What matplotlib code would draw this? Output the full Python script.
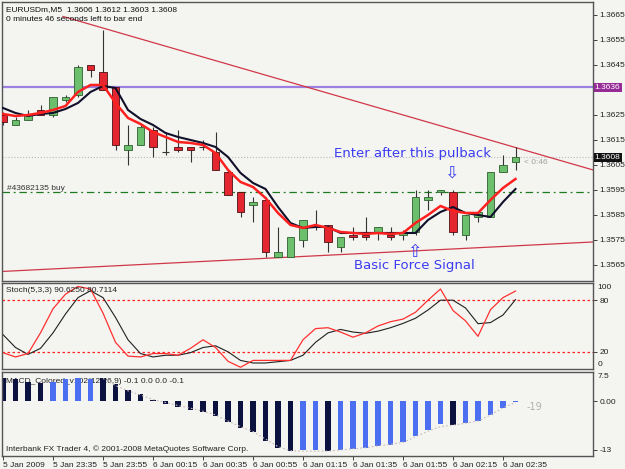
import matplotlib.pyplot as plt
import matplotlib.transforms as mtransforms
from matplotlib.patches import Rectangle
import numpy as np

# ---- data (EURUSDm M5, 5-6 Jan 2009) ----
opens = [1.3625, 1.3621, 1.3623, 1.3627, 1.3625, 1.3631, 1.3633, 1.3645, 1.3642, 1.3636,
         1.3611, 1.3613, 1.3619, 1.3610, 1.3612, 1.3612, 1.3612, 1.3610, 1.3602, 1.3594,
         1.3589, 1.3591, 1.3568, 1.3568, 1.3575, 1.3580, 1.3581, 1.3572, 1.3577, 1.3577,
         1.3578, 1.3577, 1.3577, 1.3578, 1.3591, 1.3594, 1.3594, 1.3577, 1.3584, 1.3584,
         1.3602, 1.3606]
highs = [1.3626, 1.3624, 1.3627, 1.3629, 1.3632, 1.3633, 1.3645, 1.3645, 1.3659, 1.3636,
         1.3621, 1.3621, 1.3620, 1.3618, 1.3619, 1.3612, 1.3615, 1.3618, 1.3603, 1.3594,
         1.3592, 1.3592, 1.3580, 1.3576, 1.3583, 1.3587, 1.3581, 1.3576, 1.3580, 1.3584,
         1.3580, 1.3580, 1.3579, 1.3595, 1.3595, 1.3595, 1.3595, 1.3585, 1.3586, 1.3602,
         1.3609, 1.3612]
lows = [1.3621, 1.3621, 1.3623, 1.3625, 1.3624, 1.3630, 1.3632, 1.3640, 1.3635, 1.3611,
        1.3605, 1.3613, 1.3608, 1.3609, 1.3610, 1.3606, 1.3611, 1.3603, 1.3593, 1.3584,
        1.3582, 1.3568, 1.3568, 1.3568, 1.3572, 1.3579, 1.3570, 1.3570, 1.3575, 1.3575,
        1.3575, 1.3575, 1.3575, 1.3577, 1.3587, 1.3593, 1.3577, 1.3575, 1.3582, 1.3584,
        1.3602, 1.3603]
closes = [1.3622, 1.3623, 1.3625, 1.3625, 1.3632, 1.3632, 1.3644, 1.3643, 1.3635, 1.3613,
          1.3613, 1.3620, 1.3612, 1.3610, 1.3611, 1.3611, 1.3612, 1.3603, 1.3593, 1.3586,
          1.3590, 1.3570, 1.3570, 1.3576, 1.3583, 1.3581, 1.3574, 1.3576, 1.3576, 1.3576,
          1.3580, 1.3576, 1.3578, 1.3592, 1.3592, 1.3595, 1.3578, 1.3585, 1.3586, 1.3602,
          1.3605, 1.3608]

ma_fast = [1.36254, 1.36246, 1.36250, 1.36258, 1.36270, 1.36286, 1.36342, 1.36370, 1.36370, 1.36298,
           1.36238, 1.36214, 1.36182, 1.36162, 1.36142, 1.36138, 1.36130, 1.36098, 1.36030, 1.35982,
           1.35962, 1.35918, 1.35858, 1.35810, 1.35798, 1.35810, 1.35798, 1.35782, 1.35778, 1.35774,
           1.35778, 1.35774, 1.35778, 1.35818, 1.35850, 1.35886, 1.35866, 1.35858, 1.35858, 1.35910,
           1.35958, 1.35994]
ma_slow = [1.36278, 1.36258, 1.36246, 1.36254, 1.36258, 1.36274, 1.36298, 1.36342, 1.36366, 1.36358,
           1.36270, 1.36234, 1.36210, 1.36178, 1.36162, 1.36150, 1.36138, 1.36122, 1.36082, 1.36018,
           1.35978, 1.35954, 1.35882, 1.35818, 1.35798, 1.35802, 1.35802, 1.35778, 1.35778, 1.35778,
           1.35778, 1.35778, 1.35778, 1.35778, 1.35830, 1.35862, 1.35882, 1.35858, 1.35850, 1.35842,
           1.35902, 1.35954]

stoch_k = [19, 14, 18, 42, 70, 87, 96, 93, 65, 31, 15, 14, 18, 18, 16, 24, 34, 25, 9, 2,
           10, 10, 10, 10, 34, 47, 48, 43, 37, 42, 50, 55, 58, 66, 80, 93, 68, 56, 38, 69,
           83, 90.6]
stoch_d = [40, 25, 17, 24, 42, 64, 83, 91, 83, 60, 34, 18, 14, 16, 16, 19, 25, 27, 20, 10,
           7, 7, 8.5, 10, 16, 31, 42, 46, 43, 41.5, 44, 48, 53, 59, 68.6, 80, 80, 71, 52.7, 54,
           62.8, 80.7]

macd_hist = [6.0, 5.8, 5.1, 4.7, 5.1, 5.8, 6.2, 5.8, 6.0, 4.4, 2.9, 1.9, 0.4, -0.8, -1.7,
             -2.4, -2.8, -3.9, -5.5, -7.1, -8.1, -10.6, -12.4, -13.3, -13.0, -13.0, -13.4,
             -13.0, -12.8, -12.6, -11.9, -11.7, -11.0, -9.2, -7.7, -6.2, -6.4, -5.9, -5.3,
             -3.7, -1.9, -0.3]
macd_up = [0, 0, 0, 0, 1, 1, 1, 1, 0, 0, 0, 0, 0, 0, 0, 0, 0, 0, 0, 0, 0, 0, 0, 0, 1, 1, 0,
           1, 1, 1, 1, 1, 1, 1, 1, 1, 0, 1, 1, 1, 1, 1]
macd_signal = [6.0, 4.1, 2.7, 1.6, 0.4, -0.4, -1.2, -1.9, -2.7, -3.7, -5.3, -6.8, -8.1, -10.1,
               -12.1, -13.2, -13.3, -13.3, -13.3, -13.0, -12.7, -12.4, -11.9, -11.5, -11.0,
               -9.5, -8.0, -6.8, -6.4, -5.9, -5.3, -3.7, -1.8, -0.4]
signal_start = 8

time_labels = ["5 Jan 2009", "5 Jan 23:35", "5 Jan 23:55", "6 Jan 00:15", "6 Jan 00:35",
               "6 Jan 00:55", "6 Jan 01:15", "6 Jan 01:35", "6 Jan 01:55", "6 Jan 02:15",
               "6 Jan 02:35"]
label_step = 4

price_ticks = [1.3565, 1.3575, 1.3585, 1.3595, 1.3605, 1.3615, 1.3625, 1.3645, 1.3655, 1.3665]
level_price = 1.3636
bid_price = 1.3608
order_price = 1.3594
trend_top = [(4.8, 1.36644), (41.2, 1.36117)]
trend_bottom = [(-0.1, 1.35624), (47.2, 1.35742)]

BG = '#F4F5F1'
XMIN, XMAX = -0.08, 47.2
small = dict(family='Liberation Sans', fontsize=6)

fig = plt.figure(figsize=(6.25, 4.69), dpi=100)
fig.patch.set_facecolor(BG)
axMain = fig.add_axes([0.0032, 0.4009, 0.9456, 0.5949])
axSto = fig.add_axes([0.0032, 0.2132, 0.9456, 0.1834])
axMacd = fig.add_axes([0.0032, 0.0277, 0.9456, 0.1791])

for ax in (axMain, axSto, axMacd):
    ax.set_facecolor(BG)
    ax.set_xlim(XMIN, XMAX)
    for s in ax.spines.values():
        s.set_color('#555555')
        s.set_linewidth(1)
    ax.yaxis.tick_right()
    ax.tick_params(axis='y', direction='out', length=3, width=0.6, pad=1.5,
                   labelsize=6, colors='#222222')
    ax.tick_params(axis='x', bottom=False, labelbottom=False)

# ---- main price panel ----
axMain.set_ylim(1.35586, 1.36702)
axMain.set_yticks(price_ticks)
axMain.set_yticklabels(["%.4f" % p for p in price_ticks], family='Liberation Sans')

x = np.arange(len(opens))
w = 0.6
for i in x:
    o, h, l, c = opens[i], highs[i], lows[i], closes[i]
    axMain.vlines(i, l, h, color='#333333', lw=0.8, zorder=2)
    if c > o:
        axMain.add_patch(Rectangle((i - w / 2, o), w, c - o, facecolor='#6CBF6C',
                                   edgecolor='#2F5F2F', lw=0.6, zorder=3))
    elif c < o:
        axMain.add_patch(Rectangle((i - w / 2, c), w, o - c, facecolor='#E3262F',
                                   edgecolor='#4A1015', lw=0.6, zorder=3))
    else:
        axMain.hlines(c, i - w / 2, i + w / 2, color='#333333', lw=0.8, zorder=3)

axMain.plot(x, ma_slow, color='#10102A', lw=1.5, zorder=4)
axMain.plot(x, ma_fast, color='#FF2020', lw=1.8, zorder=5)

axMain.axhline(level_price, color='#9C7FE0', lw=1.6, zorder=1)
axMain.axhline(bid_price, color='#B8B8C0', lw=0.8, ls=':', zorder=1)
axMain.axhline(order_price, color='#1E7A1E', lw=0.9, ls=(0, (6, 3, 1.5, 3)), zorder=1)

(x0, y0), (x1, y1) = trend_top
slope = (y1 - y0) / (x1 - x0)
axMain.plot([x0, XMAX], [y0, y0 + slope * (XMAX - x0)], color='#D03848', lw=0.9, zorder=1)
(x0, y0), (x1, y1) = trend_bottom
axMain.plot([x0, x1], [y0, y1], color='#D03848', lw=0.9, zorder=1)

blend = mtransforms.blended_transform_factory(axMain.transAxes, axMain.transData)
axMain.text(1.003, level_price, "1.3636", transform=blend, va='center', ha='left',
            color='white', clip_on=False,
            bbox=dict(boxstyle='square,pad=0.15', facecolor='#962A96', edgecolor='none'),
            **small)
axMain.text(1.003, bid_price, "1.3608", transform=blend, va='center', ha='left',
            color='white', clip_on=False,
            bbox=dict(boxstyle='square,pad=0.15', facecolor='#111111', edgecolor='none'),
            **small)

axMain.text(0.007, 0.985, "EURUSDm,M5  1.3606 1.3612 1.3603 1.3608", transform=axMain.transAxes,
            va='top', ha='left', color='#111111', **small)
axMain.text(0.007, 0.950, "0 minutes 46 seconds left to bar end", transform=axMain.transAxes,
            va='top', ha='left', color='#111111', **small)
axMain.text(0.3, order_price + 0.00003, "#43682135 buy", va='bottom', ha='left',
            color='#333333', **small)
axMain.text(41.7, 1.36058, "< 0:46", va='center', ha='left', color='#A0A0A0', **small)

blue = '#3B3BF0'
axMain.text(26.5, 1.36094, "Enter after this pulback", va='center', ha='left',
            color=blue, family='DejaVu Sans', fontsize=9.5)
axMain.text(28.1, 1.35646, "Basic Force Signal", va='center', ha='left',
            color=blue, family='DejaVu Sans', fontsize=9.5)
axMain.text(35.9, 1.36018, "\u21e9", va='center', ha='center', color=blue,
            family='DejaVu Sans', fontsize=12.5)
axMain.text(32.9, 1.35702, "\u21e7", va='center', ha='center', color=blue,
            family='DejaVu Sans', fontsize=12.5)

# ---- stochastic panel ----
axSto.set_ylim(0, 100)
axSto.set_yticks([20, 80])
axSto.set_yticklabels(["20", "80"], family='Liberation Sans')
axSto.axhline(80, color='#FF2020', lw=0.9, ls=(0, (2, 2)))
axSto.axhline(20, color='#FF2020', lw=0.9, ls=(0, (2, 2)))
axSto.plot(x, stoch_d, color='#202020', lw=0.8)
axSto.plot(x, stoch_k, color='#FF3030', lw=0.9)
bl = axSto.transAxes
axSto.text(1.008, 0.99, "100", transform=bl, va='top', ha='left', color='#222222', **small)
axSto.text(1.008, 0.01, "0", transform=bl, va='bottom', ha='left', color='#222222', **small)
axSto.text(0.006, 0.95, "Stoch(5,3,3) 90.6250 80.7114", transform=bl,
           va='top', ha='left', color='#222222', **small)

# ---- MACD panel ----
axMacd.set_ylim(-14.6, 7.7)
axMacd.set_yticks([0, -13])
axMacd.set_yticklabels(["0.00", "-13"], family='Liberation Sans')
cols = ['#4C6EF0' if u else '#0B1240' for u in macd_up]
axMacd.text(0.006, 0.93, "MACD_Colored_v102(12,26,9) -0.1 0.0 0.0 -0.1",
            transform=axMacd.transAxes, va='top', ha='left', color='#222222', zorder=1, **small)
axMacd.bar(x, macd_hist, width=0.45, color=cols, zorder=2)
xs = np.arange(signal_start, signal_start + len(macd_signal))
axMacd.plot(xs, macd_signal, color='#C8B8B8', lw=0.8, ls=(0, (1.5, 2)), zorder=3)
axMacd.text(41.9, -1.6, "-19", va='center', ha='left', color='#B0B0B0',
            family='DejaVu Sans', fontsize=7)
axMacd.text(1.008, 0.99, "7.5", transform=axMacd.transAxes, va='top', ha='left',
            color='#222222', **small)
axMacd.text(0.006, 0.03, "Interbank FX Trader 4, \u00a9 2001-2008 MetaQuotes Software Corp.",
            transform=axMacd.transAxes, va='bottom', ha='left', color='#222222', **small)

tick_pos = np.arange(0, len(time_labels) * label_step, label_step)
axMacd.set_xticks(tick_pos)
axMacd.set_xticklabels(time_labels, ha='left', family='Liberation Sans')
axMacd.tick_params(axis='x', bottom=True, labelbottom=True, direction='out', length=3,
                   width=0.6, pad=1.5, labelsize=6, colors='#222222')

fig.savefig("out.png", dpi=100, facecolor=BG)
